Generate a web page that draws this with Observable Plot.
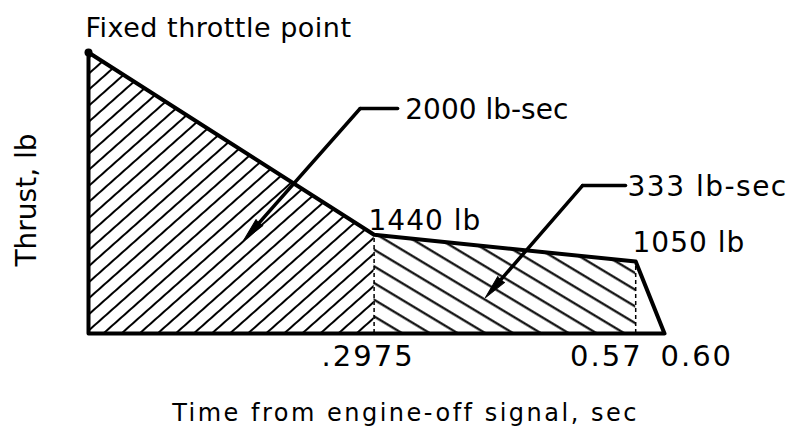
<!DOCTYPE html>
<html><head><meta charset="utf-8">
<script src="https://cdn.jsdelivr.net/npm/d3@7"></script>
<script src="https://cdn.jsdelivr.net/npm/@observablehq/plot@0.6"></script>
<style>body{margin:0;background:#fff} svg{display:block}</style>
</head><body><div id="chart"></div>
<script>
// Thrust profile after engine-off signal
const times = [0, 0.2975, 0.57, 0.60];          // sec
const thrusts = [4100, 1440, 1050, 0];          // lb (first point = fixed throttle point, drawn height)
const tickValues = [0.2975, 0.57, 0.60];
const tickLabels = [".2975", "0.57", "0.60"];

// Annotation texts and their anchor positions (in data units: sec, lb)
const pointLabels = ["1440 lb", "1050 lb"];
const pointLabelT = [0.2917, 0.5667];
const pointLabelV = [1503, 1182];
const impulseLabels = ["2000 lb-sec", "333 lb-sec"];
const impulseLabelT = [0.330, 0.5615];
const impulseLabelV = [3137, 2013];
// leader lines: stub start, elbow, arrow tip
const leaderStartT = [0.322, 0.5594];
const leaderElbowT = [0.283, 0.5146];
const leaderElbowV = [3283, 2159];
const leaderTipT = [0.1615, 0.4135];
const leaderTipV = [1357, 525];
const leaderHeadAngle = [221.5, 221];
const topLabel = "Fixed throttle point";
const xLabel = "Time from engine-off signal, sec";
const yLabel = "Thrust, lb";

const profile = times.map((t, i) => ({t, v: thrusts[i]}));
const outline = [{t: 0, v: 0}, ...profile, {t: 0, v: 0}];
const ticks = tickValues.map((t, i) => ({t, v: 0, label: tickLabels[i]}));
const pLabels = pointLabels.map((s, i) => ({t: pointLabelT[i], v: pointLabelV[i], s}));
const iLabels = impulseLabels.map((s, i) => ({t: impulseLabelT[i], v: impulseLabelV[i], s}));
const stubs = impulseLabels.flatMap((s, i) => [
  {k: i, t: leaderStartT[i], v: leaderElbowV[i]},
  {k: i, t: leaderElbowT[i], v: leaderElbowV[i]}
]);
const arrows = impulseLabels.map((s, i) => ({
  t1: leaderElbowT[i], v1: leaderElbowV[i], t2: leaderTipT[i], v2: leaderTipV[i], a: leaderHeadAngle[i]
}));

const svg = Plot.plot({
  width: 795, height: 435,
  marginLeft: 88, marginRight: 131, marginTop: 52, marginBottom: 102,
  x: {domain: [0, 0.6], axis: null},
  y: {domain: [0, 4100], axis: null},
  style: {fontFamily: "DejaVu Sans", fontSize: "28px", color: "black", background: "white"},
  marks: [
    Plot.areaY(profile.slice(0, 2), {x: "t", y: "v", fill: "url(#hatchFwd)"}),
    Plot.areaY(profile.slice(1, 3), {x: "t", y: "v", fill: "url(#hatchBack)"}),
    Plot.ruleX(profile.slice(1, 3), {x: "t", y1: 0, y2: "v", stroke: "black", strokeWidth: 1.5, strokeDasharray: "4,3"}),
    Plot.line(outline, {x: "t", y: "v", stroke: "black", strokeWidth: 4, strokeLinejoin: "round"}),
    Plot.dot(profile.slice(0, 1), {x: "t", y: "v", r: 4, fill: "black"}),
    Plot.line(stubs, {x: "t", y: "v", z: "k", stroke: "black", strokeWidth: 3.5}),
    Plot.arrow(arrows, {x1: "t1", y1: "v1", x2: "t2", y2: "v2", stroke: "black", strokeWidth: 3.5, headLength: 0, insetEnd: 10}),
    Plot.vector(arrows, {x: "t2", y: "v2", rotate: "a", length: 24, r: 4.5, shape: "spike", anchor: "end", fill: "black", stroke: "black", strokeWidth: 1}),
    Plot.text(profile.slice(0, 1), {x: "t", y: "v", text: () => topLabel, fontSize: 27, textAnchor: "start", lineAnchor: "bottom", dx: -3, dy: -16}),
    Plot.text(iLabels, {x: "t", y: "v", text: "s", fontSize: 28, textAnchor: "start", lineAnchor: "bottom"}),
    Plot.text(pLabels, {x: "t", y: "v", text: "s", fontSize: 28, textAnchor: "start", lineAnchor: "bottom"}),
    Plot.text(ticks.slice(0, 1), {x: "t", y: "v", text: "label", fontSize: 29, textAnchor: "middle", lineAnchor: "top", dx: -6, dy: 12}),
    Plot.text(ticks.slice(1, 2), {x: "t", y: "v", text: "label", fontSize: 29, textAnchor: "end", lineAnchor: "top", dx: 7, dy: 12}),
    Plot.text(ticks.slice(2, 3), {x: "t", y: "v", text: "label", fontSize: 29, textAnchor: "start", lineAnchor: "top", dx: -4, dy: 12}),
    Plot.text([xLabel], {frameAnchor: "bottom", text: d => d, fontSize: 24, textAnchor: "middle", lineAnchor: "bottom", dx: 29, dy: 87}),
    Plot.text([yLabel], {frameAnchor: "left", text: d => d, fontSize: 28, rotate: -90, textAnchor: "middle", lineAnchor: "middle", dx: -61, dy: 7})
  ]
});

d3.select(svg).insert("defs", ":first-child").html(`
  <pattern id="hatchFwd" patternUnits="userSpaceOnUse" width="40" height="12" patternTransform="rotate(-41.6)">
    <line x1="-5" y1="6" x2="45" y2="6" stroke="black" stroke-width="2"/>
  </pattern>
  <pattern id="hatchBack" patternUnits="userSpaceOnUse" width="40" height="14.3" patternTransform="rotate(31)">
    <line x1="-5" y1="7" x2="45" y2="7" stroke="black" stroke-width="2"/>
  </pattern>`);

const spacing = {[xLabel]: "2.5px", "333 lb-sec": "1.5px", "1440 lb": "1px", "1050 lb": "1px",
  ".2975": "2px", "0.57": "2px", "0.60": "2px", [topLabel]: "0.5px"};
d3.select(svg).selectAll("text").each(function() {
  const ls = spacing[this.textContent];
  if (ls) this.style.letterSpacing = ls;
});

document.getElementById("chart").appendChild(svg);
</script>
</body></html>
